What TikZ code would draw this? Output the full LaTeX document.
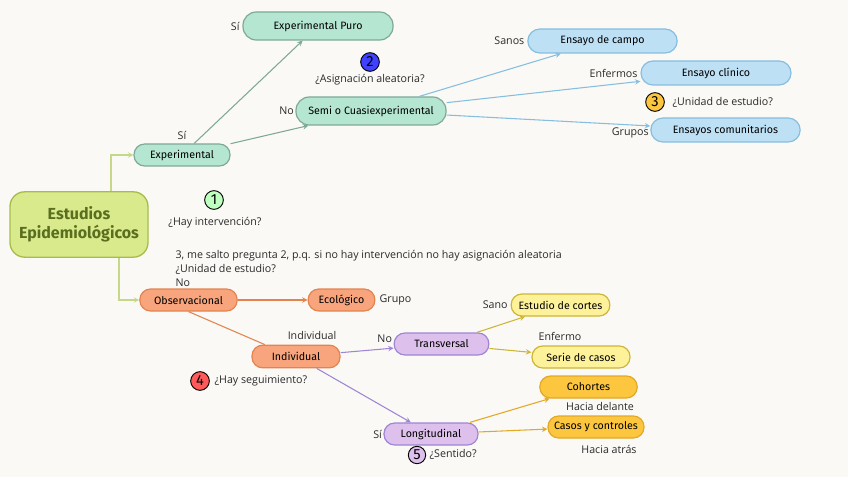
\documentclass[tikz,border=0pt]{standalone}
\usepackage{fontspec}
\setmainfont{Open Sans}
\newfontfamily\handfont{Fira Sans}
\usetikzlibrary{positioning}

\definecolor{paper}{HTML}{FAF9F6}
\definecolor{labeltext}{HTML}{2A2A2A}
\definecolor{rootfill}{HTML}{D8EA8C}
\definecolor{rootline}{HTML}{A9BC4A}
\definecolor{roottext}{HTML}{5B6E1F}
\definecolor{rootedge}{HTML}{C5D88A}
\definecolor{tealfill}{HTML}{B4E6D2}
\definecolor{tealline}{HTML}{7FA898}
\definecolor{bluefill}{HTML}{BDE0F5}
\definecolor{blueline}{HTML}{86BEDF}
\definecolor{orangefill}{HTML}{F8A47C}
\definecolor{orangeline}{HTML}{E3834F}
\definecolor{purplefill}{HTML}{DEC0EC}
\definecolor{purpleline}{HTML}{9E86D4}
\definecolor{lemonfill}{HTML}{FDF19A}
\definecolor{lemonline}{HTML}{CDB637}
\definecolor{goldfill}{HTML}{FCC63E}
\definecolor{goldline}{HTML}{E2A826}

\begin{document}
\begin{tikzpicture}[x=0.75pt,y=-0.75pt,>=stealth,
    box/.style={draw, line width=0.9pt, inner sep=0pt, text=black,
      font=\handfont\fontsize{8}{9}\selectfont},
    smallbox/.style={box, minimum height=16.5pt, rounded corners=8pt},
    midbox/.style={box, minimum height=18pt, rounded corners=9pt},
    bigbox/.style={box, minimum height=21pt, rounded corners=10pt},
    tealbox/.style={fill=tealfill, draw=tealline},
    bluebox/.style={fill=bluefill, draw=blueline},
    orangebox/.style={fill=orangefill, draw=orangeline},
    purplebox/.style={fill=purplefill, draw=purpleline},
    lemonbox/.style={fill=lemonfill, draw=lemonline},
    goldbox/.style={fill=goldfill, draw=goldline},
    edge/.style={line width=0.8pt},
    lbl/.style={inner sep=1pt, text=labeltext, font=\fontsize{8}{10.5}\selectfont},
    num/.style={circle, draw=black, line width=0.7pt, minimum size=14pt,
      inner sep=0pt, font=\handfont\fontsize{11}{11}\selectfont}]

  % background fixes the size
  \fill[paper] (0,0) rectangle (848,477);

  % root
  \node[draw=rootline, fill=rootfill, line width=1pt, rounded corners=11pt,
    minimum width=103.5pt, minimum height=49pt, align=center, text=roottext,
    font=\handfont\bfseries\fontsize{12}{14}\selectfont] (root) at (79,224.5)
    {Estudios\\Epidemiológicos};

  % experimental branch
  \node[smallbox, tealbox, minimum width=72pt] (expe) at (182,155) {Experimental};
  \node[bigbox, tealbox, minimum width=112.5pt] (puro) at (318,26) {Experimental Puro};
  \node[bigbox, tealbox, minimum width=112.5pt] (semi) at (371,111) {Semi o Cuasiexperimental};
  \node[midbox, bluebox, minimum width=112pt] (campo) at (602.5,41) {Ensayo de campo};
  \node[midbox, bluebox, minimum width=112.5pt] (clinico) at (716,73) {Ensayo clínico};
  \node[midbox, bluebox, minimum width=112pt] (comun) at (725.5,130) {Ensayos comunitarios};

  % observational branch
  \node[smallbox, orangebox, minimum width=73pt] (obs) at (188.5,300) {Observacional};
  \node[smallbox, orangebox, minimum width=50pt] (eco) at (341.5,300) {Ecológico};
  \node[smallbox, orangebox, minimum width=66pt, minimum height=17pt] (indiv) at (296,356.5) {Individual};
  \node[smallbox, purplebox, minimum width=71pt] (trans) at (441.5,344) {Transversal};
  \node[smallbox, purplebox, minimum width=70.5pt] (longi) at (431,434) {Longitudinal};
  \node[smallbox, lemonbox, minimum width=74pt] (cortes) at (560.5,305) {Estudio de cortes};
  \node[smallbox, lemonbox, minimum width=73.5pt] (serie) at (581,357) {Serie de casos};
  \node[smallbox, goldbox, minimum width=73pt] (cohor) at (588.5,387) {Cohortes};
  \node[smallbox, goldbox, minimum width=72pt] (casos) at (596,427) {Casos y controles};

  % connectors
  \draw[->, edge, rootedge] ([xshift=24pt]root.north) |- (expe);
  \draw[->, edge, rootedge] ([xshift=30pt]root.south) |- (obs);
  \draw[->, edge, tealline] (expe) -- (puro);
  \draw[->, edge, tealline] (expe) -- (semi);
  \draw[->, edge, blueline] (semi) -- (campo);
  \draw[->, edge, blueline] (semi) -- (clinico);
  \draw[->, edge, blueline] (semi) -- (comun);
  \draw[->, edge, orangeline] (obs) -- (eco);
  \draw[edge, orangeline] (obs.south) -- ([xshift=10pt]indiv.north west);
  \draw[->, edge, purpleline] (indiv) -- (trans);
  \draw[->, edge, purpleline] (indiv) -- (longi);
  \draw[->, edge, lemonline] (trans) -- (cortes);
  \draw[->, edge, lemonline] (trans) -- (serie);
  \draw[->, edge, goldline] (longi) -- (cohor);
  \draw[->, edge, goldline] (longi) -- (casos);

  % answers
  \node[lbl, left=1pt of puro] (siPuro) {Sí};
  \node[lbl] (siExpe) at (182,135) {Sí};
  \node[lbl, left=0pt of semi] (noSemi) {No};
  \node[lbl, left=1pt of campo] (sanos) {Sanos};
  \node[lbl, left=1pt of clinico] (enfermos) {Enfermos};
  \node[lbl, anchor=east] (grupos) at ([yshift=-2pt]comun.west) {Grupos};
  \node[lbl, right=2pt of eco] (grupo) {Grupo};
  \node[lbl] (individual) at (312,335) {Individual};
  \node[lbl, anchor=east] (noTrans) at ([yshift=4pt]trans.west) {No};
  \node[lbl, left=1pt of cortes] (sano) {Sano};
  \node[lbl] (enfermo) at (560,336) {Enfermo};
  \node[lbl] (delante) at (600,406) {Hacia delante};
  \node[lbl] (atras) at (609,449) {Hacia atrás};
  \node[lbl, left=0pt of longi] (siLongi) {Sí};

  % questions
  \node[num, fill=green!25!white] (q1) at (214,200) {1};
  \node[lbl] (hay) at (215,223) {¿Hay intervención?};
  \node[num, fill=blue!75!white] (q2) at (370,62) {2};
  \node[lbl] (asig) at (370,80) {¿Asignación aleatoria?};
  \node[num, fill=goldfill] (q3) at (655,102) {3};
  \node[lbl, anchor=west] (unidad) at (671,102) {¿Unidad de estudio?};
  \node[lbl, anchor=west, align=left] (nota) at (174,268)
    {3, me salto pregunta 2, p.q. si no hay intervención no hay asignación aleatoria\\
     ¿Unidad de estudio?\\No};
  \node[num, fill=red!65!white] (q4) at (200,381) {4};
  \node[lbl, anchor=west] (segui) at (213,381) {¿Hay seguimiento?};
  \node[num, fill=purplefill, minimum size=13pt] (q5) at (417,455) {5};
  \node[lbl, anchor=west] (sentido) at (428,454) {¿Sentido?};
\end{tikzpicture}
\end{document}
